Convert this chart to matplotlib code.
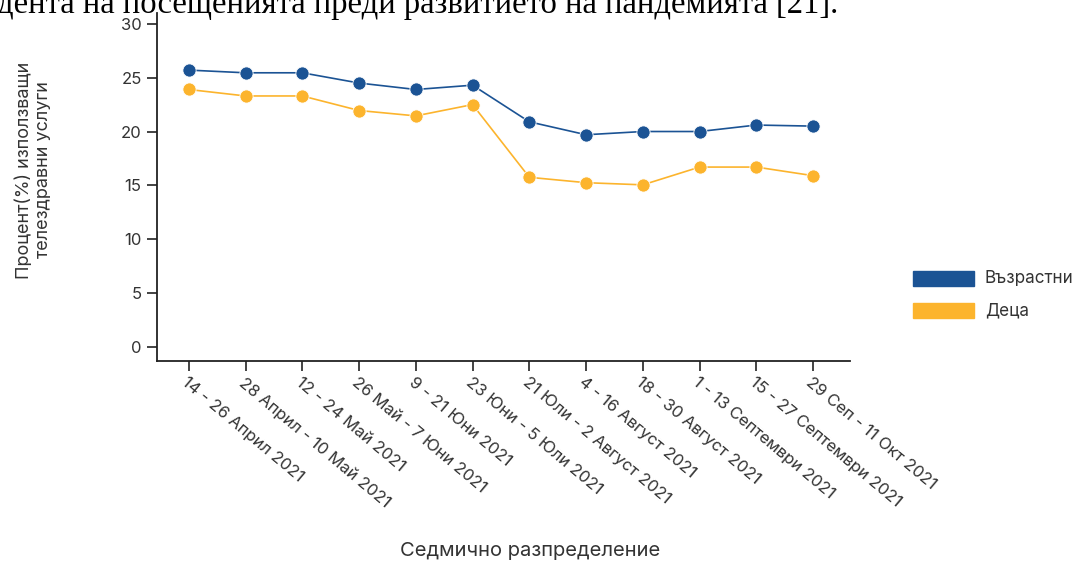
import matplotlib
matplotlib.use("Agg")
import matplotlib.pyplot as plt
from matplotlib.patches import Rectangle

periods = ["14 - 26 Април 2021", "28 Април - 10 Май 2021", "12 - 24 Май 2021",
           "26 Май - 7 Юни 2021", "9 - 21 Юни 2021", "23 Юни - 5 Юли 2021",
           "21 Юли - 2 Август 2021", "4 - 16 Август 2021", "18 - 30 Август 2021",
           "1 - 13 Септември 2021", "15 - 27 Септември 2021", "29 Сеп - 11 Окт 2021"]
adults = [25.7, 25.45, 25.45, 24.5, 23.9, 24.3, 20.9, 19.7, 20.0, 20.0, 20.6, 20.5]
children = [23.9, 23.3, 23.3, 21.95, 21.45, 22.5, 15.75, 15.25, 15.05, 16.7, 16.7, 15.9]
yticks = [0, 5, 10, 15, 20, 25, 30]
series_names = ["Възрастни", "Деца"]

BLUE = "#1b5394"
ORANGE = "#fcb42d"
TXT = "#333333"

plt.rcParams['font.family'] = ['Inter', 'DejaVu Sans']

fig = plt.figure(figsize=(10.75, 5.63), dpi=100)
ax = fig.add_axes([157/1075, 1-361/563, (850-157)/1075, (361-13)/563])

x = list(range(len(periods)))
ax.plot(x, adults, color=BLUE, lw=1.2, marker='o', ms=9.5, mec='white', mew=0.6, zorder=3)
ax.plot(x, children, color=ORANGE, lw=1.2, marker='o', ms=9.5, mec='white', mew=0.6, zorder=3)

ax.set_xlim(-0.56, 11.65)
ax.set_ylim(-1.3, 31.0)
ax.set_yticks(yticks)
ax.set_xticks(x)
ax.set_xticklabels(periods, rotation=-40, ha='left', va='top', rotation_mode='anchor')
for s in ['top', 'right']:
    ax.spines[s].set_visible(False)
for s in ['left', 'bottom']:
    ax.spines[s].set_linewidth(1.3)
    ax.spines[s].set_color('#222222')
ax.tick_params(axis='both', length=7, width=1.2, color='#222222', labelsize=12, labelcolor=TXT)
ax.tick_params(axis='x', pad=3)
ax.tick_params(axis='y', pad=4)

fig.text(34/1075, 1-170/563, "Процент(%) използващи\nтелездравни услуги", rotation=90,
         ha='center', va='center', fontsize=13, color=TXT, multialignment='center', linespacing=1.15)
fig.text(530/1075, 1-551/563, "Седмично разпределение", ha='center', va='center',
         fontsize=14.5, color=TXT)

# legend
for i, (name, col) in enumerate(zip(series_names, [BLUE, ORANGE])):
    yc = 279 + i*32
    fig.patches.append(Rectangle((913/1075, 1-(yc+7)/563), 61/1075, 15/563,
                                 transform=fig.transFigure, color=col, figure=fig))
    fig.text(985/1075, 1-yc/563, name, ha='left', va='center', fontsize=12.3, color=TXT)

fig.text(-3/1075, 1-13/563, "дента на посещенията преди развитието на пандемията [21].",
         ha='left', va='baseline', fontsize=23.5, family='Liberation Serif', color='black')

fig.savefig("out.png", dpi=100, facecolor='white')
